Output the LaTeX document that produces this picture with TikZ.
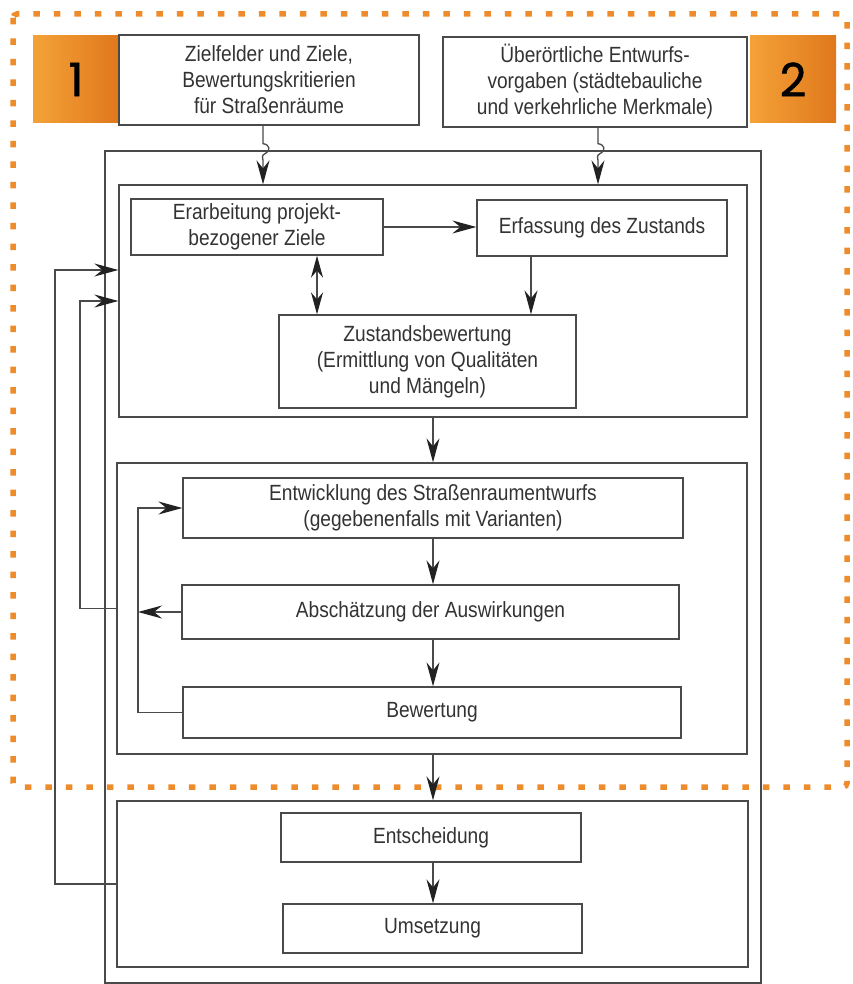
\documentclass[tikz,border=0pt]{standalone}
\usepackage{fontspec}
\setmainfont{Liberation Sans}[FakeStretch=0.87]
\newfontfamily\badgefont{Poppins}[FakeBold=1.3]
\usetikzlibrary{arrows.meta}
\definecolor{lc}{HTML}{4A4A4A}
\definecolor{tc}{HTML}{333333}
\definecolor{ac}{HTML}{222222}
\definecolor{orL}{HTML}{F4A238}
\definecolor{orR}{HTML}{E0781C}
\definecolor{ordash}{HTML}{EE8C2C}
\newcommand\txtfont{\fontsize{22}{26}\selectfont}
\tikzset{
  box/.style={draw=lc, line width=1.3pt, fill=white, inner sep=2pt, align=center, font=\txtfont, text=tc},
  frame/.style={draw=lc, line width=1.3pt, inner sep=0pt},
  line/.style={draw=lc, line width=1.3pt},
  arrow/.style={line, -{Stealth[length=24pt,width=13pt,inset=8pt,fill=ac,color=ac]}},
  darrow/.style={line, {Stealth[length=22pt,width=12pt,inset=7pt,fill=ac,color=ac]}-{Stealth[length=22pt,width=12pt,inset=7pt,fill=ac,color=ac]}},
  badge/.style={left color=orL, right color=orR, inner sep=0pt, text=black, font=\badgefont\fontsize{46}{46}\selectfont},
  orangedash/.style={draw=ordash, line width=5.5pt, dash pattern=on 6.5pt off 14pt, rounded corners=4pt}
}
\begin{document}
\begin{tikzpicture}[x=1pt,y=-1pt]
\useasboundingbox[fill=white] (0,0) rectangle (852,984);
% orange dashed frame
\draw[orangedash] (13,14) rectangle (847,787);
% badges
\node[badge, minimum width=86pt, minimum height=87pt] (b1) at (76,79.5) {1};
\node[badge, minimum width=86pt, minimum height=87pt] (b2) at (793,79.5) {2};
% top boxes
\node[box, minimum width=300pt, minimum height=90pt] (A) at (269,80) {Zielfelder und Ziele,\\Bewertungskritierien\\für Straßenräume};
\node[box, minimum width=304pt, minimum height=90pt] (B) at (595,82) {Überörtliche Entwurfs-\\vorgaben (städtebauliche\\und verkehrliche Merkmale)};
% outer frame
\node[frame, minimum width=656pt, minimum height=832pt] (outer) at (433,567) {};
% group 1
\node[frame, minimum width=628pt, minimum height=232pt] (g1) at (433,301) {};
\node[box, minimum width=252pt, minimum height=56pt] (erarb) at (257,227) {Erarbeitung projekt-\\bezogener Ziele};
\node[box, minimum width=250pt, minimum height=56pt] (erfass) at (602,228) {Erfassung des Zustands};
\node[box, minimum width=297pt, minimum height=93pt] (zust) at (427.5,361.5) {Zustandsbewertung\\(Ermittlung von Qualitäten\\und Mängeln)};
% group 2
\node[frame, minimum width=630pt, minimum height=291pt] (g2) at (432,608.5) {};
\node[box, minimum width=500pt, minimum height=60pt] (entw) at (433,508) {Entwicklung des Straßenraumentwurfs\\(gegebenenfalls mit Varianten)};
\node[box, minimum width=497pt, minimum height=54pt] (absch) at (430.5,612) {Abschätzung der Auswirkungen};
\node[box, minimum width=498pt, minimum height=51pt] (bew) at (432,712.5) {Bewertung};
% group 3
\node[frame, minimum width=631pt, minimum height=166pt] (g3) at (432.5,884) {};
\node[box, minimum width=300pt, minimum height=49pt] (entsch) at (431,837.5) {Entscheidung};
\node[box, minimum width=299pt, minimum height=49pt] (ums) at (432.5,928.5) {Umsetzung};
% helper coordinates
\coordinate (sqA) at (263,0);
\coordinate (sqB) at (598,0);
\coordinate (dx) at (317,0);
\coordinate (ex) at (531,0);
\coordinate (cx) at (433,0);
\coordinate (fbA) at (55,270);
\coordinate (fbB) at (80,301);
\coordinate (loopc) at (138,508);
% squiggle arrows from top boxes
\draw[arrow] (A.south -| sqA) -- ++(0,18) .. controls +(7,1) and +(6,-3) .. ++(2,10) .. controls +(-4,2) and +(0,-3) .. ++(-2,7) -- (g1.north -| sqA);
\draw[arrow] (B.south -| sqB) -- ++(0,16) .. controls +(7,1) and +(6,-3) .. ++(2,10) .. controls +(-4,2) and +(0,-3) .. ++(-2,7) -- (g1.north -| sqB);
% group 1 connectors
\draw[arrow] (erarb.east) -- (erarb.east -| erfass.west);
\draw[darrow] (erarb.south -| dx) -- (zust.north -| dx);
\draw[arrow] (erfass.south -| ex) -- (zust.north -| ex);
% central flow
\draw[arrow] (g1.south -| cx) -- (g2.north -| cx);
\draw[arrow] (entw.south -| cx) -- (absch.north -| cx);
\draw[arrow] (absch.south -| cx) -- (bew.north -| cx);
\draw[arrow] (g2.south -| cx) -- (g3.north -| cx);
\draw[arrow] (entsch.south -| cx) -- (ums.north -| cx);
% inner loop
\draw[arrow] (bew.west) -| (loopc) -- (loopc -| entw.west);
\draw[arrow] (absch.west) -- (absch.west -| loopc);
% feedback loops
\draw[arrow] (g3.west) -| (fbA) -- (fbA -| g1.west);
\draw[arrow] (g2.west) -| (fbB) -- (fbB -| g1.west);
\end{tikzpicture}
\end{document}
